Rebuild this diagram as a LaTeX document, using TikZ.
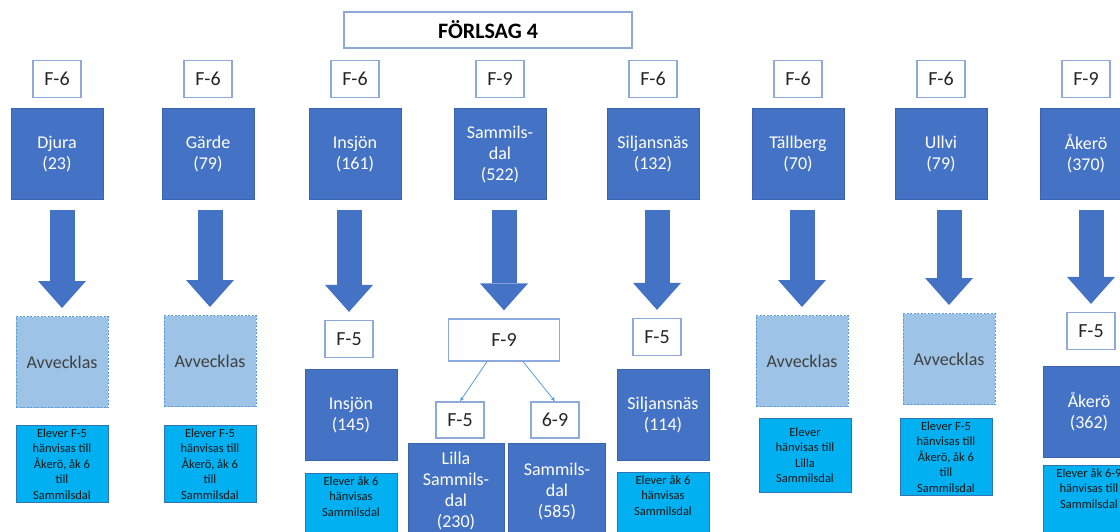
\documentclass[tikz,border=0pt]{standalone}
\usepackage{fontspec}
\setmainfont{Carlito}
\usetikzlibrary{arrows.meta}

\definecolor{skolbla}{HTML}{4472C4}
\definecolor{skolkant}{HTML}{3A64B0}
\definecolor{ramkbla}{HTML}{8EAADB}
\definecolor{ljusbla}{HTML}{9DC3E6}
\definecolor{streckbla}{HTML}{5B9BD5}
\definecolor{notbla}{HTML}{00B0F0}
\definecolor{notkant}{HTML}{2E75B6}
\definecolor{textgra}{HTML}{404040}

\tikzset{
	rubrik/.style={draw=ramkbla, line width=1.2pt, fill=white, minimum width=288pt,
		minimum height=36pt, inner sep=0pt, font=\fontsize{22}{24}\selectfont\bfseries},
	klass/.style={draw=ramkbla, line width=1.2pt, fill=white, minimum width=48pt,
		minimum height=37pt, inner sep=0pt, text=black!85, font=\fontsize{20}{22}\selectfont},
	skola/.style={draw=skolkant, line width=0.6pt, fill=skolbla, minimum width=92pt,
		minimum height=91pt, inner sep=2pt, align=center, text=white,
		font=\fontsize{18}{21}\selectfont},
	avveckla/.style={draw=streckbla, dash pattern=on 2pt off 1.5pt, line width=1pt,
		fill=ljusbla, minimum width=92pt, minimum height=91pt, text=textgra,
		font=\fontsize{18}{21}\selectfont},
	elever/.style={draw=notkant, line width=0.8pt, fill=notbla, minimum width=92pt,
		inner xsep=2pt, inner ysep=3pt, align=center, text=black!90,
		font=\fontsize{12.5}{15.5}\selectfont},
	pil/.style={draw=skolbla, line width=25pt,
		-{Triangle[width=48pt, length=27pt, line width=0pt]},
		shorten <=10pt, shorten >=8pt},
	delpil/.style={draw=streckbla, line width=0.8pt, -{Latex[length=4pt, width=4pt]}},
}

\begin{document}
\begin{tikzpicture}[x=1pt, y=-1pt]
	\useasboundingbox (0,0) rectangle (1120,532);
	\clip (0,0) rectangle (1120,532);
	% Rubrik
	\node[rubrik] (rubrik) at (488,30) {FÖRLSAG 4};

	% Skolor idag
	\foreach \i/\x/\k/\namn in {1/57/F-6/{Djura\\(23)}, 2/208/F-6/{Gärde\\(79)},
		3/355/F-6/{Insjön\\(161)}, 4/500/F-9/{Sammils-\\dal\\(522)},
		5/653/F-6/{Siljansnäs\\(132)}, 6/798/F-6/{Tällberg\\(70)},
		7/941/F-6/{Ullvi\\(79)}, 8/1086/F-9/{Åkerö\\(370)}}
	{
		\node[klass] (klass\i) at (\x,79) {\k};
		\node[skola] (skola\i) at (\x,154) {\namn};
	}

	% Djura och Gärde
	\node[avveckla] (ned1) at (62,362) {Avvecklas};
	\node[elever, anchor=north] (elev1) at (62,425)
		{Elever F-5\\hänvisas till\\Åkerö, åk 6\\till\\Sammilsdal};
	\node[avveckla] (ned2) at (210,361) {Avvecklas};
	\node[elever, anchor=north] (elev2) at (210,425)
		{Elever F-5\\hänvisas till\\Åkerö, åk 6\\till\\Sammilsdal};

	% Insjön
	\node[klass] (ned3) at (349,339) {F-5};
	\node[skola] (nyskola3) at (351,415) {Insjön\\(145)};
	\node[elever, anchor=north, text depth=30pt] (elev3) at (351,473)
		{Elever åk 6\\hänvisas\\Sammilsdal};

	% Sammilsdal
	\node[klass, minimum width=111pt, minimum height=42pt] (ned4) at (504,340) {F-9};
	\node[klass, minimum height=36pt] (lagre4) at (460,420) {F-5};
	\node[klass, minimum height=36pt] (hogre4) at (555,420) {6-9};
	\node[skola, minimum width=96pt, minimum height=96pt] (lilla4) at (456,491)
		{Lilla\\Sammils-\\dal\\(230)};
	\node[skola, minimum width=97pt, minimum height=96pt] (stora4) at (557,491)
		{Sammils-\\dal\\(585)};
	\draw[delpil] ([xshift=-17pt]ned4.south) -- (lagre4.north);
	\draw[delpil] ([xshift=19pt]ned4.south) -- (hogre4.north);

	% Siljansnäs
	\node[klass] (ned5) at (657,337) {F-5};
	\node[skola] (nyskola5) at (663,415) {Siljansnäs\\(114)};
	\node[elever, anchor=north, text depth=30pt] (elev5) at (663,472)
		{Elever åk 6\\hänvisas\\Sammilsdal};

	% Tällberg och Ullvi
	\node[avveckla] (ned6) at (802,361) {Avvecklas};
	\node[elever, anchor=north, minimum height=74pt] (elev6) at (805,418)
		{Elever\\hänvisas till\\Lilla\\Sammilsdal};
	\node[avveckla] (ned7) at (949,359) {Avvecklas};
	\node[elever, anchor=north] (elev7) at (946,418)
		{Elever F-5\\hänvisas till\\Åkerö, åk 6\\till\\Sammilsdal};

	% Åkerö
	\node[klass] (ned8) at (1091,331) {F-5};
	\node[skola] (nyskola8) at (1089,412) {Åkerö\\(362)};
	\node[elever, anchor=north, text depth=30pt] (elev8) at (1089,465)
		{Elever åk 6-9\\hänvisas till\\Sammilsdal};

	% Pilar
	\foreach \i in {1,...,8}
		\draw[pil] (skola\i.south -| ned\i.north) -- (ned\i.north);
\end{tikzpicture}
\end{document}
